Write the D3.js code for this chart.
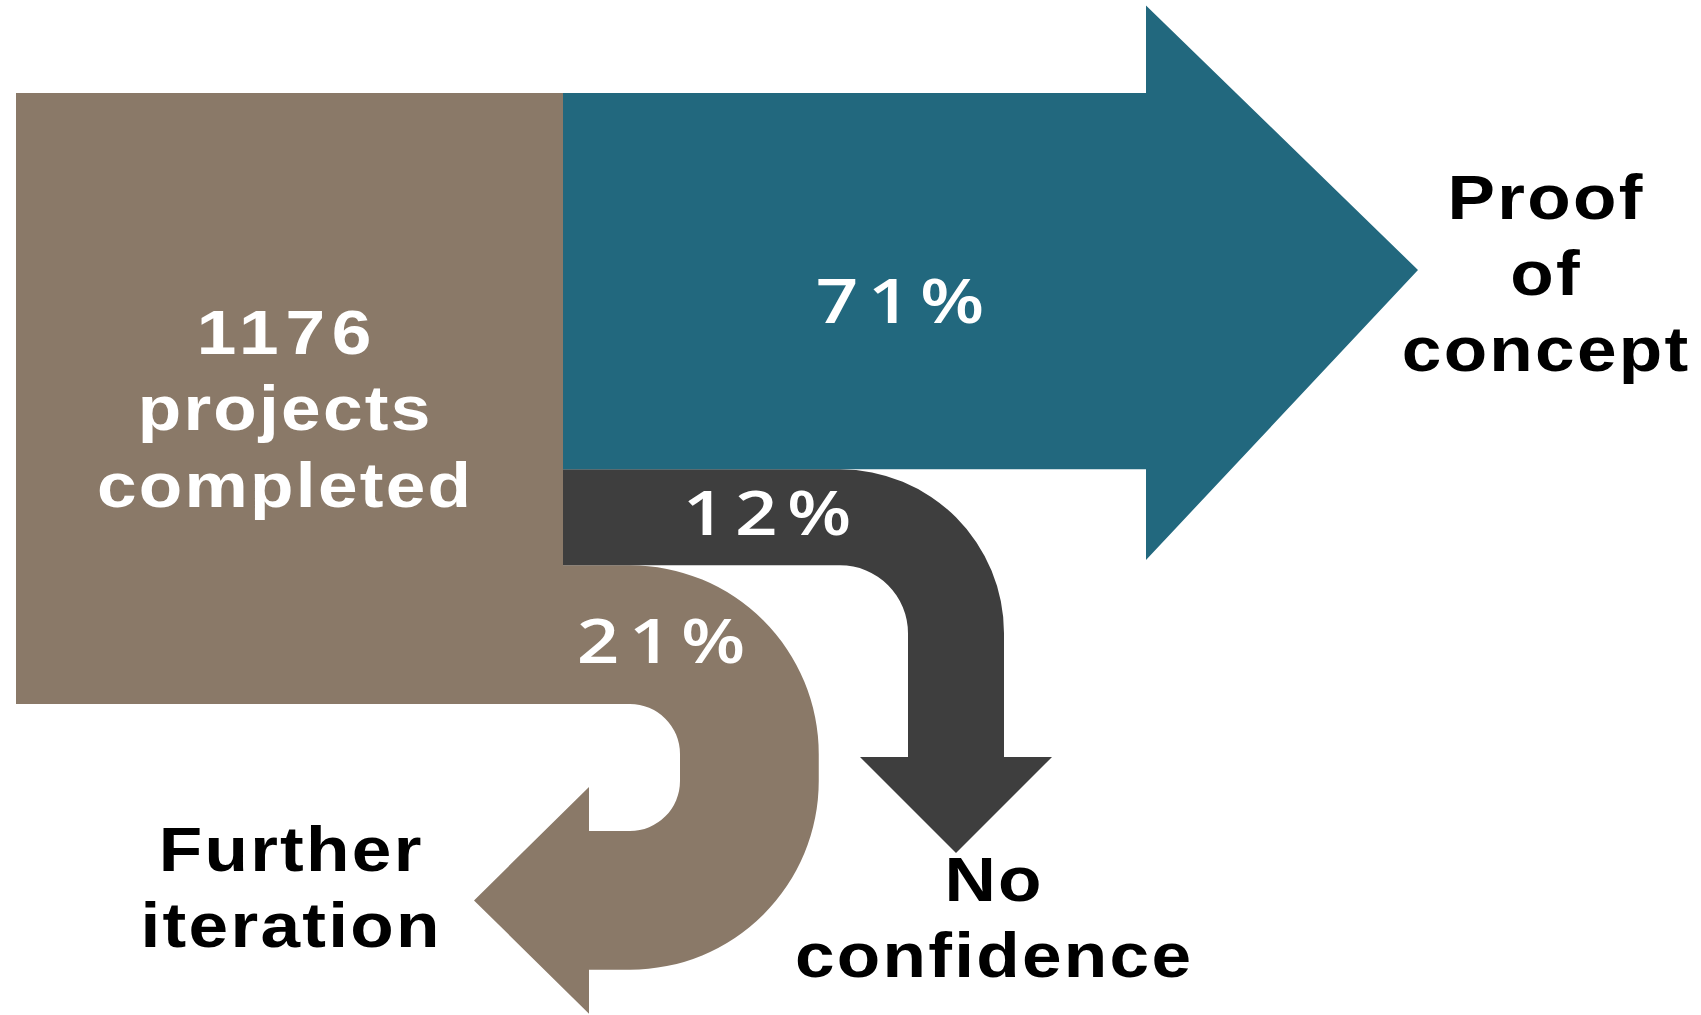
<!DOCTYPE html>
<html>
<head>
<meta charset="utf-8">
<script src="https://cdn.jsdelivr.net/npm/d3@7"></script>
<style>
  html, body { margin: 0; padding: 0; background: #ffffff; overflow: hidden; }
  svg { display: block; }
</style>
</head>
<body>
<svg id="chart" width="1701" height="1015"></svg>
<script>
// Outcomes of completed projects (shares in percent)
const outcomes = ["Proof of concept", "No confidence", "Further iteration"];
const shares = [71, 12, 21];
const shareLabels = ["71%", "12%", "21%"];
const totalProjects = 1176;
const sourceLines = [String(totalProjects), "projects", "completed"];
const outcomeLines = [["Proof", "of", "concept"], ["No", "confidence"], ["Further", "iteration"]];

const flowColors = ["#22687e", "#3e3e3e", "#8a7968"];
const sourceColor = "#8a7968";

const svg = d3.select("#chart");

// band thickness for each flow, from its share
const band = d3.scaleLinear().domain([0, 100]).range([39, 514]);
const w = shares.map(band);

const src = { x0: 16, x1: 563, top: 93 };
const y0 = src.top, y1 = y0 + w[0], y2 = y1 + w[1], y3 = y2 + w[2];

const gFlows = svg.append("g");

// source block
gFlows.append("rect")
  .attr("x", src.x0).attr("y", src.top)
  .attr("width", src.x1 - src.x0).attr("height", y3 - src.top)
  .attr("fill", sourceColor);

// "Further iteration": loop back to the left
function returnPath() {
  const p = d3.path();
  const cx = 630, r = 50, R = r + w[2];
  const cy1 = y3 + r, cy2 = cy1 + 27;
  const baseX = 589, over = 44, tipX = 474;
  p.moveTo(src.x1 - 1, y2);
  p.lineTo(cx, y2);
  p.arc(cx, cy1, R, -Math.PI / 2, 0);
  p.lineTo(cx + R, cy2);
  p.arc(cx, cy2, R, 0, Math.PI / 2);
  p.lineTo(baseX, cy2 + R);
  p.lineTo(baseX, cy2 + R + over);
  p.lineTo(tipX, cy2 + (r + R) / 2);
  p.lineTo(baseX, cy2 + r - over);
  p.lineTo(baseX, cy2 + r);
  p.lineTo(cx, cy2 + r);
  p.arc(cx, cy2, r, Math.PI / 2, 0, true);
  p.lineTo(cx + r, cy1);
  p.arc(cx, cy1, r, 0, -Math.PI / 2, true);
  p.lineTo(src.x1 - 1, y3);
  p.closePath();
  return p.toString();
}

// "No confidence": bend downwards
function downPath() {
  const p = d3.path();
  const cx = 840, r = 68, R = r + w[1];
  const cy = y1 + R;
  const shaftEnd = 757, over = 48, tipY = 853;
  p.moveTo(src.x1, y1);
  p.lineTo(cx, y1);
  p.arc(cx, cy, R, -Math.PI / 2, 0);
  p.lineTo(cx + R, shaftEnd);
  p.lineTo(cx + R + over, shaftEnd);
  p.lineTo(cx + (r + R) / 2, tipY);
  p.lineTo(cx + r - over, shaftEnd);
  p.lineTo(cx + r, shaftEnd);
  p.lineTo(cx + r, cy);
  p.arc(cx, cy, r, 0, -Math.PI / 2, true);
  p.lineTo(src.x1, y2);
  p.closePath();
  return p.toString();
}

// "Proof of concept": straight arrow to the right
function rightPath() {
  const p = d3.path();
  const headX = 1146, headTop = 5.5, headBottom = 560, tipX = 1418, tipY = 270;
  p.moveTo(src.x1, y0);
  p.lineTo(headX, y0);
  p.lineTo(headX, headTop);
  p.lineTo(tipX, tipY);
  p.lineTo(headX, headBottom);
  p.lineTo(headX, y1);
  p.lineTo(src.x1, y1);
  p.closePath();
  return p.toString();
}

const flowPaths = [rightPath(), downPath(), returnPath()];
// draw order: loop first, then the bend, then the main arrow
gFlows.selectAll("path.flow")
  .data([2, 1, 0])
  .join("path")
  .attr("class", "flow")
  .attr("d", i => flowPaths[i])
  .attr("fill", i => flowColors[i]);

// text helpers
const boldFont = "'Liberation Sans', Arial, Helvetica, sans-serif";
const pctFont = "'Open Sans', 'Noto Sans', sans-serif";
const stretch = 1.13;

function stackedText(lines, cx, firstBaseline, lineGap, fill, spacingFor) {
  const t = svg.append("text")
    .attr("transform", `translate(${cx},${firstBaseline}) scale(${stretch},1)`)
    .attr("font-family", boldFont)
    .attr("font-weight", 700)
    .attr("font-size", 63)
    .attr("text-anchor", "middle")
    .attr("fill", fill);
  t.selectAll("tspan")
    .data(lines)
    .join("tspan")
    .attr("letter-spacing", d => spacingFor(d))
    .attr("x", d => spacingFor(d) / 2)
    .attr("y", (d, i) => i * lineGap)
    .text(d => d);
}

// digits are set a little looser than words
const spacing = d => (/^\d+$/.test(d) ? 6 : 2);

// source label
stackedText(sourceLines, 284, 354, 76.5, "#ffffff", spacing);

// outcome labels
const outcomeAnchors = [[1545, 219], [993, 901], [290, 871]];
outcomeLines.forEach((lines, i) => {
  stackedText(lines, outcomeAnchors[i][0], outcomeAnchors[i][1], 76, "#000000", spacing);
});

// share labels on the flows
const shareAnchors = [[900, 323], [767, 535], [661, 663]];
svg.append("g")
  .selectAll("text")
  .data(shares)
  .join("text")
  .attr("transform", (d, i) => `translate(${shareAnchors[i][0]},${shareAnchors[i][1]}) scale(1.2,1)`)
  .attr("x", 4)
  .attr("text-anchor", "middle")
  .attr("font-family", pctFont)
  .attr("font-weight", 600)
  .attr("font-size", 62)
  .attr("letter-spacing", 8)
  .attr("fill", "#ffffff")
  .text((d, i) => shareLabels[i]);
</script>
</body>
</html>
